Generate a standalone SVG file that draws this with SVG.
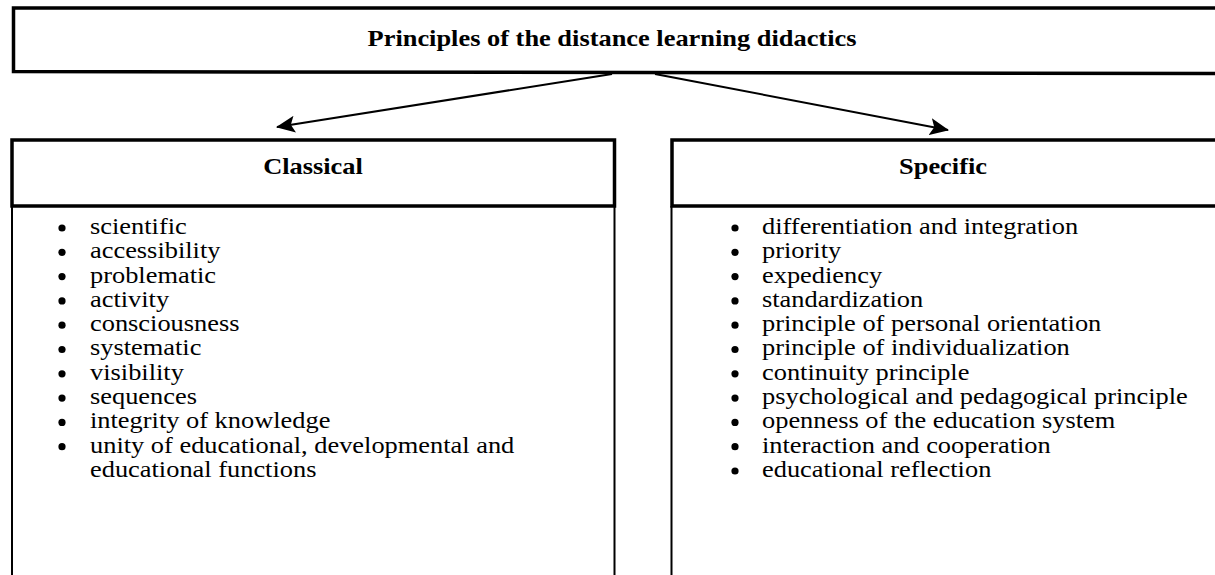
<svg xmlns="http://www.w3.org/2000/svg" width="1215" height="575" viewBox="0 0 1215 575">
  <defs>
    <style>
      .frame { fill: none; stroke: #000; stroke-width: 3.5; }
      .rule { fill: none; stroke: #000; stroke-width: 2; }
      .link { fill: none; stroke: #000; stroke-width: 2; }
      .head { font-family: "Liberation Serif", "Times New Roman", serif; font-weight: bold; font-size: 24px; fill: #000; text-anchor: middle; }
      .item { font-family: "Liberation Serif", "Times New Roman", serif; font-size: 24px; fill: #000; }
      .dot { fill: #000; }
    </style>
    <marker id="arrow" markerUnits="userSpaceOnUse" markerWidth="19" markerHeight="17" viewBox="0 0 19 17" refX="18" refY="8.5" orient="auto">
      <path d="M0,0 L19,8.5 L0,17 L4,8.5 Z" fill="#000"/>
    </marker>
  </defs>

  <!-- root node -->
  <g id="root">
    <path class="frame" d="M1220,8 H13.5 V71.5 L1220,73.5"/>
    <g transform="translate(612,0) scale(1.1,1)">
      <text class="head" x="0" y="46.5">Principles of the distance learning didactics</text>
    </g>
  </g>

  <!-- connectors from root to the two branches -->
  <g id="connectors">
    <line class="link" x1="612" y1="74" x2="277" y2="127" marker-end="url(#arrow)"/>
    <line class="link" x1="655" y1="74" x2="948" y2="130" marker-end="url(#arrow)"/>
  </g>

  <!-- classical principles -->
  <g id="classical">
    <rect class="frame" x="12" y="140" width="602.5" height="66"/>
    <g transform="translate(313,0) scale(1.1,1)">
      <text class="head" x="0" y="174.5">Classical</text>
    </g>
    <line class="rule" x1="12" y1="206" x2="12" y2="575"/>
    <line class="rule" x1="614.5" y1="206" x2="614.5" y2="575"/>
    <g class="item" transform="translate(90,0) scale(1.1,1)">
      <text x="0" y="234">scientific</text>
      <text x="0" y="258.3">accessibility</text>
      <text x="0" y="282.6">problematic</text>
      <text x="0" y="306.9">activity</text>
      <text x="0" y="331.2">consciousness</text>
      <text x="0" y="355.5">systematic</text>
      <text x="0" y="379.8">visibility</text>
      <text x="0" y="404.1">sequences</text>
      <text x="0" y="428.4">integrity of knowledge</text>
      <text x="0" y="452.7">unity of educational, developmental and</text>
      <text x="0" y="477">educational functions</text>
    </g>
    <g class="dot">
      <circle cx="62" cy="228" r="3.6"/>
      <circle cx="62" cy="252.3" r="3.6"/>
      <circle cx="62" cy="276.6" r="3.6"/>
      <circle cx="62" cy="300.9" r="3.6"/>
      <circle cx="62" cy="325.2" r="3.6"/>
      <circle cx="62" cy="349.5" r="3.6"/>
      <circle cx="62" cy="373.8" r="3.6"/>
      <circle cx="62" cy="398.1" r="3.6"/>
      <circle cx="62" cy="422.4" r="3.6"/>
      <circle cx="62" cy="446.7" r="3.6"/>
    </g>
  </g>

  <!-- specific principles -->
  <g id="specific">
    <path class="frame" d="M1220,140 H672 V206 H1220"/>
    <g transform="translate(943,0) scale(1.1,1)">
      <text class="head" x="0" y="174.5">Specific</text>
    </g>
    <line class="rule" x1="671.5" y1="206" x2="671.5" y2="575"/>
    <g class="item" transform="translate(762,0) scale(1.1,1)">
      <text x="0" y="234">differentiation and integration</text>
      <text x="0" y="258.3">priority</text>
      <text x="0" y="282.6">expediency</text>
      <text x="0" y="306.9">standardization</text>
      <text x="0" y="331.2">principle of personal orientation</text>
      <text x="0" y="355.5">principle of individualization</text>
      <text x="0" y="379.8">continuity principle</text>
      <text x="0" y="404.1">psychological and pedagogical principle</text>
      <text x="0" y="428.4">openness of the education system</text>
      <text x="0" y="452.7">interaction and cooperation</text>
      <text x="0" y="477">educational reflection</text>
    </g>
    <g class="dot">
      <circle cx="735" cy="228" r="3.6"/>
      <circle cx="735" cy="252.3" r="3.6"/>
      <circle cx="735" cy="276.6" r="3.6"/>
      <circle cx="735" cy="300.9" r="3.6"/>
      <circle cx="735" cy="325.2" r="3.6"/>
      <circle cx="735" cy="349.5" r="3.6"/>
      <circle cx="735" cy="373.8" r="3.6"/>
      <circle cx="735" cy="398.1" r="3.6"/>
      <circle cx="735" cy="422.4" r="3.6"/>
      <circle cx="735" cy="446.7" r="3.6"/>
      <circle cx="735" cy="471" r="3.6"/>
    </g>
  </g>
</svg>
